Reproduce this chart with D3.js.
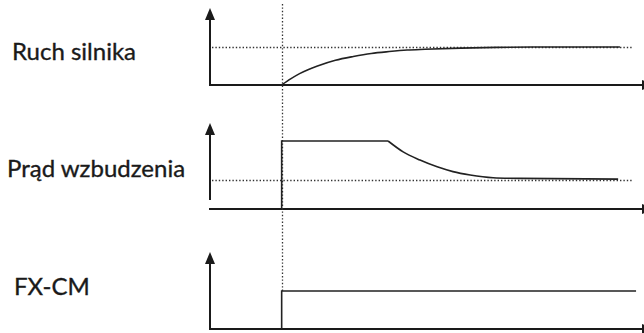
<!DOCTYPE html>
<html>
<head>
<meta charset="utf-8">
<script src="https://cdn.jsdelivr.net/npm/d3@7"></script>
<style>
  body { margin: 0; background: #fff; }
  svg { display: block; }
  .label { font-family: Lato, "Open Sans", sans-serif; font-size: 24px; fill: #1a1a1a; stroke: #1a1a1a; stroke-width: 0.35; }
  .axis { stroke: #1a1a1a; stroke-width: 2; fill: none; }
  .signal { stroke: #222; stroke-width: 1.6; fill: none; }
  .dots { stroke: #333; stroke-width: 1.3; stroke-dasharray: 1.4,2; fill: none; }
</style>
</head>
<body>
<script>
"use strict";
// time axis (s) and signals, values normalised 0..1 per panel
var timeDomain = [0, 12];
var switchTime = 2;
var ruchT = [2.0, 2.25, 2.5, 2.75, 3.0, 3.5, 4.0, 4.5, 5.0, 5.5, 6.0, 7.0, 8.0, 9.0, 11.44];
var ruchV = [0, 0.16, 0.30, 0.41, 0.50, 0.65, 0.75, 0.83, 0.88, 0.92, 0.94, 0.97, 0.99, 1.0, 1.0];
var pradStepT = [2.0, 2.0, 4.97];
var pradStepV = [0, 1, 1];
var pradDecayT = [4.97, 5.39, 5.86, 6.34, 6.78, 7.26, 7.9, 8.65, 11.39];
var pradDecayV = [1, 0.84, 0.72, 0.62, 0.55, 0.50, 0.46, 0.45, 0.44];
var fxT = [2.0, 2.0, 11.89];
var fxV = [0, 1, 1];
var labels = ["Ruch silnika", "Prąd wzbudzenia", "FX-CM"];
var refLevels = [1, 0.43, null];
var refEnd = 11.8;

var width = 644, height = 333;

var svg = d3.select('body').append('svg')
  .attr('width', width)
  .attr('height', height);

// one arrow head, turned along the line direction
svg.append('defs').append('marker')
  .attr('id', 'arrow')
  .attr('viewBox', '0 0 12 10')
  .attr('refX', 0).attr('refY', 5)
  .attr('markerWidth', 12).attr('markerHeight', 10)
  .attr('markerUnits', 'userSpaceOnUse')
  .attr('orient', 'auto')
  .append('path')
  .attr('d', 'M0,0 L12,5 L0,10 Z')
  .attr('fill', '#1a1a1a');

var x = d3.scaleLinear().domain(timeDomain).range([210, 640]);

// panel layout: arrow tip, bottom of y axis, baseline, level of value 1
var panels = [
  { top: 8,   axisEnd: 85,  base: 85,  high: 47,  labelY: 60 },
  { top: 123, axisEnd: 200, base: 209, high: 141, labelY: 177 },
  { top: 252, axisEnd: 329, base: 329, high: 291, labelY: 295 }
];
var labelX = [12, 7, 14];

panels.forEach(function (p, i) {
  p.y = d3.scaleLinear().domain([0, 1]).range([p.base, p.high]);
  var g = svg.append('g').attr('class', 'panel');

  // y axis with arrow
  g.append('line')
    .attr('class', 'axis')
    .attr('x1', x(0)).attr('x2', x(0))
    .attr('y1', p.axisEnd).attr('y2', p.top + 12)
    .attr('marker-end', 'url(#arrow)');

  // time axis with arrow
  g.append('line')
    .attr('class', 'axis')
    .attr('x1', x(0) - 1).attr('x2', 642)
    .attr('y1', p.y(0)).attr('y2', p.y(0))
    .attr('marker-end', 'url(#arrow)');

  if (refLevels[i] !== null) {
    g.append('line')
      .attr('class', 'dots')
      .attr('x1', x(0) + 2).attr('x2', x(refEnd))
      .attr('y1', Math.round(p.y(refLevels[i])) + 0.5)
      .attr('y2', Math.round(p.y(refLevels[i])) + 0.5);
  }

  g.append('text')
    .attr('class', 'label')
    .attr('x', labelX[i])
    .attr('y', p.labelY)
    .text(labels[i]);
});

// vertical dotted marker at switching time
svg.append('line')
  .attr('class', 'dots')
  .attr('x1', Math.round(x(switchTime)) + 0.5).attr('x2', Math.round(x(switchTime)) + 0.5)
  .attr('y1', 4)
  .attr('y2', panels[2].y(1));

function drawSignal(panel, ts, vs, curve) {
  var line = d3.line()
    .x(function (d) { return x(d[0]); })
    .y(function (d) { return panel.y(d[1]); })
    .curve(curve);
  svg.append('path')
    .attr('class', 'signal')
    .attr('d', line(d3.zip(ts, vs)));
}

drawSignal(panels[0], ruchT, ruchV, d3.curveMonotoneX);
drawSignal(panels[1], pradStepT, pradStepV, d3.curveLinear);
drawSignal(panels[1], pradDecayT, pradDecayV, d3.curveMonotoneX);
drawSignal(panels[2], fxT, fxV, d3.curveLinear);
</script>
</body>
</html>
